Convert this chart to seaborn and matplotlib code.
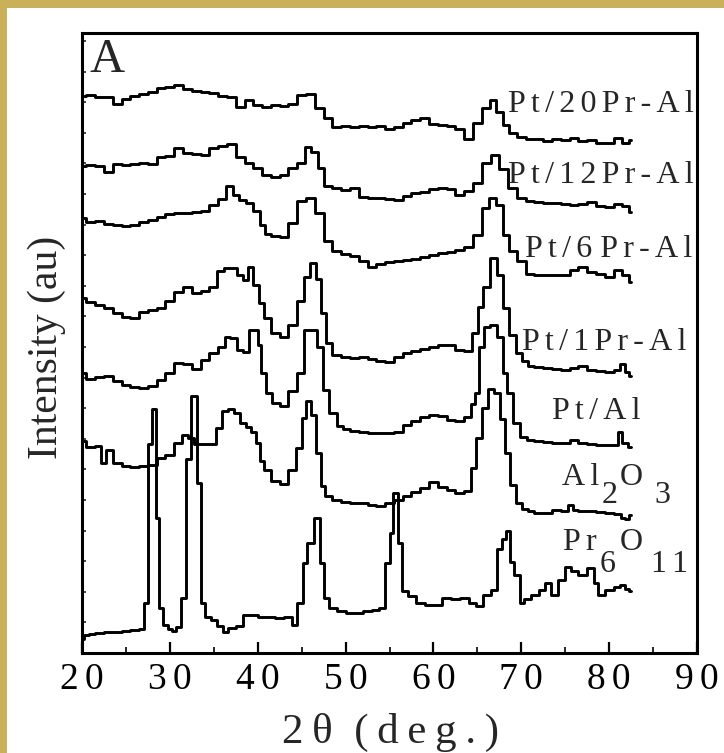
import numpy as np
import pandas as pd
import matplotlib
matplotlib.use('Agg')
import matplotlib.pyplot as plt
import seaborn as sns
from matplotlib.patches import Rectangle
from matplotlib.ticker import MultipleLocator, FuncFormatter

# XRD patterns: 2theta (deg) and stacked intensity (au)
tt_20pr = [20, 21, 22, 23, 24, 25, 26, 27, 28, 29, 30, 31, 32, 33, 34, 35, 36, 37, 38, 39,
           40, 41, 42, 43, 44, 45, 46, 47, 48, 49, 50, 51, 52, 53, 54, 55, 56, 57, 58, 59,
           60, 61, 62, 63, 64, 65, 66, 66.8, 67.5, 68.3, 69, 70, 71, 72, 73, 74, 75, 76, 77,
           78, 79, 80, 81, 82, 82.5]
i_20pr = [557, 558, 556, 556, 549, 554, 557, 559, 561, 565, 566, 568, 564, 562, 561, 560, 557, 556, 546, 553,
          548, 546, 548, 547, 549, 558, 559, 545, 535, 526, 527, 526, 527, 526, 527, 524, 526, 530, 533, 535,
          529, 528, 527, 524, 514, 530, 545, 553, 541, 528, 520, 516, 514, 514, 512, 514, 513, 515, 512,
          513, 510, 510, 515, 510, 513]

tt_12pr = [20, 21, 22, 23, 24, 25, 26, 27, 28, 29, 30, 31, 32, 33, 34, 35, 36, 37, 38, 39,
           40, 41, 42, 43, 44, 45, 45.7, 46.5, 47.2, 48, 49, 50, 51, 52, 53, 54, 55, 56, 57, 58,
           59, 60, 61, 62, 63, 64, 65, 66, 67, 68, 69, 70, 71, 72, 73, 74, 75, 76, 77, 78,
           79, 80, 81, 82, 82.5]
i_12pr = [487, 488, 487, 481, 489, 488, 489, 490, 489, 496, 497, 505, 500, 499, 498, 505, 507, 509, 496, 490,
          485, 478, 476, 478, 485, 490, 506, 501, 485, 467, 465, 463, 465, 456, 455, 455, 454, 453, 457, 460,
          461, 464, 465, 464, 458, 462, 470, 490, 498, 484, 465, 455, 452, 451, 450, 450, 449, 448, 449, 451,
          447, 446, 449, 447, 441]

tt_6pr = [20, 21, 22, 23, 24, 25, 26, 27, 28, 29, 30, 31, 32, 33, 34, 35, 36, 36.8, 37.5, 38.3,
          39, 40, 40.6, 41, 42, 43, 44, 45, 46, 47, 48, 49, 50, 51, 52, 53, 54, 55, 56, 57,
          58, 59, 60, 61, 62, 63, 64, 65, 66, 66.7, 67.5, 68.3, 69, 70, 71, 72, 73, 74, 75, 76,
          77, 78, 79, 80, 81, 82, 82.5]
i_6pr = [435, 431, 432, 429, 428, 427, 428, 431, 433, 436, 439, 440, 440, 441, 442, 448, 454, 467, 458, 453,
         450, 442, 428, 419, 417, 416, 430, 452, 455, 440, 412, 402, 399, 397, 392, 386, 389, 391, 392, 393,
         394, 396, 398, 400, 401, 403, 406, 418, 445, 455, 448, 418, 402, 392, 379, 378, 378, 378, 378, 383,
         386, 381, 379, 376, 383, 378, 371]

tt_1pr = [20, 21, 22, 23, 24, 25, 26, 27, 28, 29, 30, 31, 32, 33, 34, 35, 35.8, 36.5, 37.3, 38,
          38.7, 39.2, 39.8, 40.5, 41, 42, 43, 44, 45, 45.6, 46.2, 47, 47.5, 48, 49, 50, 51, 52, 53, 54,
          55, 56, 57, 58, 59, 60, 61, 62, 63, 64, 64.8, 65.3, 66, 66.8, 67.6, 68.3, 69, 69.7, 70.5, 71,
          72, 73, 74, 75, 76, 77, 78, 79, 80, 81, 81.5, 82, 82.5]
i_1pr = [355, 351, 348, 345, 340, 336, 335, 341, 343, 345, 352, 361, 366, 360, 362, 366, 382, 385, 385, 378,
         373, 386, 368, 350, 335, 320, 316, 328, 352, 376, 390, 374, 340, 310, 298, 296, 295, 296, 294, 292,
         291, 296, 300, 302, 304, 306, 308, 308, 303, 302, 320, 346, 366, 395, 378, 345, 318, 300, 292, 287,
         286, 285, 284, 283, 285, 287, 283, 282, 281, 283, 289, 281, 277]

tt_ptal = [20, 21, 22, 23, 24, 25, 26, 27, 28, 29, 30, 31, 32, 33, 34, 35, 36, 36.5, 37.3, 38,
           38.7, 39.3, 39.8, 40.2, 40.6, 41.3, 42, 43, 44, 45, 45.5, 46.5, 47, 47.8, 48.5, 49.5, 50, 51, 52, 53,
           54, 55, 56, 57, 58, 59, 60, 61, 62, 63, 64, 64.5, 65, 65.4, 66, 66.8, 67.7, 68.1, 68.6, 69.4,
           70.2, 71, 72, 73, 74, 75, 76, 77, 78, 79, 80, 80.8, 81.2, 81.8, 82.5]
i_ptal = [280, 274, 276, 277, 272, 268, 266, 265, 267, 273, 280, 290, 289, 284, 293, 300, 306, 316, 315, 303,
          301, 323, 323, 308, 280, 260, 250, 247, 262, 280, 323, 323, 306, 263, 240, 227, 224, 222, 221, 220,
          220, 220, 221, 228, 232, 236, 238, 237, 233, 232, 236, 249, 260, 306, 326, 328, 316, 280, 260, 230,
          216, 213, 212, 211, 210, 210, 213, 210, 209, 208, 208, 208, 221, 210, 206]

tt_al2o3 = [20, 21, 22, 22.4, 23, 24, 25, 26, 27, 28, 29, 30, 31, 31.8, 32.4, 33, 34, 35, 35.6, 36.3,
            37, 37.6, 38.3, 39, 39.5, 40, 40.5, 41, 42, 43, 44, 44.8, 45.3, 45.8, 46.4, 46.9, 47.4, 48, 49, 50,
            51, 52, 53, 54, 55, 56, 57, 58, 59, 60, 61, 62, 63, 64, 64.6, 65.2, 65.8, 66.6, 67.3, 67.8,
            68.4, 69, 69.7, 70.5, 71, 72, 73, 74, 75, 75.7, 76, 77, 78, 79, 80, 81, 81.6, 82, 82.5]
i_al2o3 = [212, 206, 207, 190, 203, 190, 187, 186, 187, 188, 195, 198, 210, 218, 215, 209, 209, 209, 225, 242,
           244, 240, 230, 226, 221, 210, 192, 183, 172, 169, 183, 205, 235, 252, 238, 200, 167, 157, 153, 151,
           150, 150, 148, 147, 150, 153, 157, 161, 165, 171, 166, 163, 160, 162, 185, 215, 245, 264, 260, 234,
           200, 168, 150, 144, 142, 140, 140, 143, 142, 148, 143, 142, 142, 141, 140, 139, 135, 134, 138]

tt_pr6o11 = [20, 20.5, 21, 22, 23, 24, 25, 26, 26.9, 27.3, 27.7, 28.2, 28.6, 29.0, 29.5, 30, 30.5, 31, 31.6, 32.1,
             32.8, 33.3, 33.7, 34.3, 35, 35.7, 36.3, 37, 38, 38.6, 39.5, 40.5, 41.5, 42.5, 43.5, 44.2, 44.8, 45.4, 45.9, 46.8,
             47.3, 47.7, 48.5, 49.5, 50.5, 51.5, 52.5, 53.5, 54.2, 54.8, 55.2, 55.7, 56.2, 56.7, 57.5, 58.5, 59.5, 60.5, 61.5, 62.5,
             63.5, 64.5, 65.2, 66, 67, 67.5, 68.0, 68.5, 68.9, 69.5, 70.1, 70.6, 71.5, 72.5, 73, 73.8, 74.6, 75.4, 76, 77,
             78, 78.5, 79, 80, 81, 81.5, 82, 82.5]
i_pr6o11 = [14, 18, 19, 20, 21, 21, 22, 23, 24, 50, 209, 244, 135, 45, 28, 24, 22, 26, 55, 194,
            257, 170, 50, 36, 33, 27, 21, 25, 27, 38, 38, 36, 36, 35, 36, 28, 50, 90, 110, 135,
            90, 55, 45, 42, 40, 40, 42, 43, 45, 90, 120, 160, 110, 62, 57, 50, 48, 48, 55, 54,
            55, 50, 47, 58, 63, 104, 114, 122, 91, 78, 50, 54, 58, 63, 70, 58, 73, 86, 82, 78,
            85, 70, 58, 63, 66, 68, 64, 62]

samples = ['Pt/20Pr-Al', 'Pt/12Pr-Al', 'Pt/6Pr-Al', 'Pt/1Pr-Al', 'Pt/Al', 'Al2O3', 'Pr6O11']
patterns = [(tt_20pr, i_20pr), (tt_12pr, i_12pr), (tt_6pr, i_6pr), (tt_1pr, i_1pr),
            (tt_ptal, i_ptal), (tt_al2o3, i_al2o3), (tt_pr6o11, i_pr6o11)]

frames = []
for name, (tt, inten) in zip(samples, patterns):
    frames.append(pd.DataFrame({'two_theta': tt, 'intensity': inten, 'sample': name}))
df = pd.concat(frames, ignore_index=True)

sns.set_theme(style='white')
plt.rcParams['font.family'] = ['Liberation Serif', 'DejaVu Serif']

HS = '\u200a\u200a'  # the original text is letter-spaced
TS = '\u2009'


def spaced(s, sep=HS):
    return sep.join(s)


W, H = 724, 753
fig = plt.figure(figsize=(W / 100, H / 100), dpi=100)
ax = fig.add_axes([82 / W, 1 - 653 / H, 615 / W, 620 / H])

sns.lineplot(data=df, x='two_theta', y='intensity', hue='sample', estimator=None,
             palette={n: 'black' for n in samples}, legend=False, drawstyle='steps-mid',
             lw=2.1, ax=ax)

ax.set_xlim(20, 90)
ax.set_ylim(0, 620)
ax.xaxis.set_major_locator(MultipleLocator(10))
ax.xaxis.set_minor_locator(MultipleLocator(5))
ax.xaxis.set_major_formatter(FuncFormatter(lambda v, p: spaced(f'{v:.0f}')))
ax.set_yticks(np.arange(30.6, 620, 30.6))
ax.tick_params(axis='x', which='major', direction='in', length=8, width=1.6,
               labelsize=27, pad=7, top=False, bottom=True, colors='black')
ax.tick_params(axis='x', which='minor', direction='in', length=4, width=1.4, top=False, bottom=True)
ax.tick_params(axis='y', direction='in', length=3, width=1.2, left=True, right=False, labelleft=False)
for s in ax.spines.values():
    s.set_linewidth(2.2)
    s.set_color('black')
ax.set_xlabel('')
ax.set_ylabel('')

# sample labels
lab_fs = 23
ax.text(68.5, 541, spaced('Pt/20Pr-Al'), fontsize=lab_fs, ha='left', va='baseline')
ax.text(68.5, 470, spaced('Pt/12Pr-Al'), fontsize=lab_fs, ha='left', va='baseline')
ax.text(70.4, 396, spaced('Pt/6') + ' ' + spaced('Pr-Al'), fontsize=lab_fs, ha='left', va='baseline')
ax.text(70.1, 303, spaced('Pt/1Pr-Al'), fontsize=lab_fs, ha='left', va='baseline')
ax.text(73.5, 234, spaced('Pt/Al'), fontsize=lab_fs, ha='left', va='baseline')
ax.text(74.6, 168, spaced('Al'), fontsize=lab_fs, ha='left', va='baseline')
ax.text(79.2, 150, '2', fontsize=lab_fs, ha='left', va='baseline')
ax.text(81.2, 168, 'O', fontsize=lab_fs, ha='left', va='baseline')
ax.text(85.2, 150, '3', fontsize=lab_fs, ha='left', va='baseline')
ax.text(74.7, 103, spaced('Pr'), fontsize=lab_fs, ha='left', va='baseline')
ax.text(78.9, 81, '6', fontsize=lab_fs, ha='left', va='baseline')
ax.text(81.2, 103, 'O', fontsize=lab_fs, ha='left', va='baseline')
ax.text(84.8, 81, spaced('11'), fontsize=lab_fs, ha='left', va='baseline')
ax.text(20.9, 581, 'A', fontsize=35, ha='left', va='baseline')

fig.text(390 / W, 1 - 743 / H, '2' + TS + 'θ\u2002' + spaced('(deg.)', TS), fontsize=31,
         ha='center', va='baseline')
fig.text(47 / W, 1 - 347 / H, 'Intensity (au)', rotation=90, fontsize=30,
         ha='center', va='center')

# gold frame on the left and top edges
fig.add_artist(Rectangle((0, 0), 7 / W, 1, transform=fig.transFigure, color='#cbb05a', lw=0))
fig.add_artist(Rectangle((0, 1 - 8 / H), 1, 8 / H, transform=fig.transFigure, color='#cbb05a', lw=0))

fig.savefig('out.png', dpi=100)
